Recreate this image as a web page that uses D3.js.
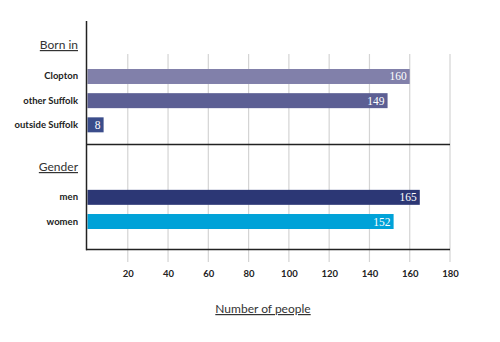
<!DOCTYPE html>
<html>
<head>
<meta charset="utf-8">
<script src="https://cdn.jsdelivr.net/npm/d3@7/dist/d3.min.js"></script>
<style>
  html, body { margin: 0; padding: 0; background: #fff; }
  svg { display: block; }
</style>
</head>
<body>
<svg id="chart" width="500" height="342"></svg>
<script>
// Group headings and their rows
const groupTitles = ["Born in", "Gender"];
const bornCategories = ["Clopton", "other Suffolk", "outside Suffolk"];
const bornValues = [160, 149, 8];
const bornColors = ["#8180aa", "#5c5f94", "#3b4d8b"];
const genderCategories = ["men", "women"];
const genderValues = [165, 152];
const genderColors = ["#2c3775", "#00a2d8"];
const tickValues = [20, 40, 60, 80, 100, 120, 140, 160, 180];
const axisTitle = "Number of people";

const rows = [
  ...bornCategories.map((c, i) => ({ key: c, value: bornValues[i], color: bornColors[i] })),
  { key: "_gap1" }, { key: "_gap2" },
  ...genderCategories.map((c, i) => ({ key: c, value: genderValues[i], color: genderColors[i] }))
];
const bars = rows.filter(r => r.value !== undefined);

const svg = d3.select("#chart");
const left = 87.5, right = 450;
const x = d3.scaleLinear().domain([0, 180]).range([left, right]);
const y = d3.scaleBand().domain(rows.map(r => r.key)).range([69, 229]).paddingInner(0.38).paddingOuter(0);

const gridTop = 54, gridBottom = 262;
const axisTop = 21, dividerY = 144.5, bottomY = 249.5;

// vertical gridlines
svg.append("g").selectAll("line").data(tickValues).join("line")
  .attr("x1", d => x(d)).attr("x2", d => x(d))
  .attr("y1", gridTop).attr("y2", gridBottom)
  .attr("stroke", "#d4d4d4").attr("stroke-width", 1.2);

// bars
svg.append("g").selectAll("rect").data(bars).join("rect")
  .attr("x", x(0)).attr("y", d => y(d.key))
  .attr("width", d => x(d.value) - x(0)).attr("height", y.bandwidth())
  .attr("fill", d => d.color);

// value labels inside bar ends
svg.append("g").selectAll("text").data(bars).join("text")
  .attr("x", d => x(d.value) - 3)
  .attr("y", d => y(d.key) + y.bandwidth() / 2 + 4)
  .attr("text-anchor", "end")
  .attr("fill", "#fff")
  .attr("font-family", "Liberation Serif, serif")
  .attr("font-size", 11.5)
  .text(d => d.value);

// category labels
svg.append("g").selectAll("text").data(bars).join("text")
  .attr("x", 78)
  .attr("y", d => y(d.key) + y.bandwidth() / 2 + 3)
  .attr("text-anchor", "end")
  .attr("fill", "#222")
  .attr("font-family", "Lato, sans-serif")
  .attr("font-weight", "bold")
  .attr("font-size", 9.5)
  .text(d => d.key);

// group headings (underlined)
const headY = [49, 171];
svg.append("g").selectAll("text").data(groupTitles).join("text")
  .attr("x", 78).attr("y", (d, i) => headY[i])
  .attr("text-anchor", "end")
  .attr("fill", "#333")
  .attr("font-family", "Lato, sans-serif")
  .attr("font-size", 12)
  .attr("text-decoration", "underline")
  .text(d => d);

// left axis line and horizontal rules
svg.append("line").attr("x1", 86.5).attr("x2", 86.5).attr("y1", axisTop).attr("y2", bottomY + 0.75)
  .attr("stroke", "#222").attr("stroke-width", 1.5);
[dividerY, bottomY].forEach(yy => {
  svg.append("line").attr("x1", 86).attr("x2", right).attr("y1", yy).attr("y2", yy)
    .attr("stroke", "#222").attr("stroke-width", 1.5);
});

// x axis tick labels
const xAxis = d3.axisBottom(x).tickValues(tickValues).tickSize(0).tickPadding(0);
const gx = svg.append("g").attr("transform", `translate(0,${270})`).call(xAxis);
gx.select(".domain").remove();
gx.selectAll("text")
  .attr("font-family", "Lato, sans-serif")
  .attr("font-weight", "bold")
  .attr("font-size", 9.5)
  .attr("fill", "#222");

// axis title
svg.append("text")
  .attr("x", 263).attr("y", 313)
  .attr("text-anchor", "middle")
  .attr("fill", "#333")
  .attr("font-family", "Lato, sans-serif")
  .attr("font-size", 12)
  .attr("text-decoration", "underline")
  .text(axisTitle);
</script>
</body>
</html>
